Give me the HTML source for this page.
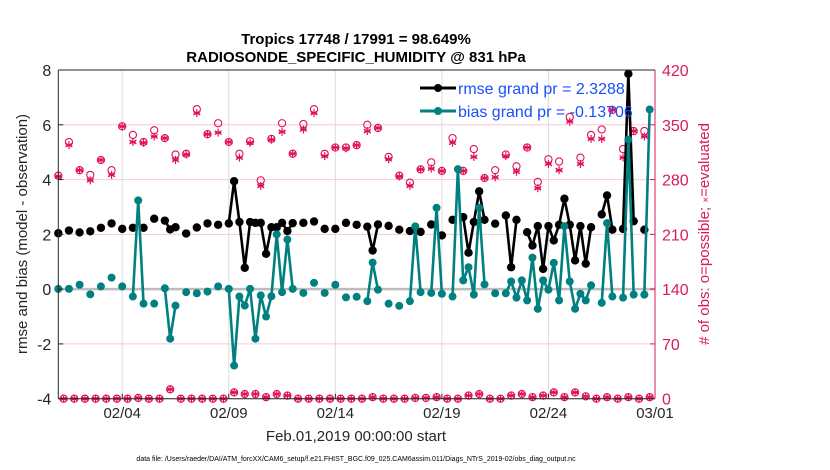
<!DOCTYPE html>
<html><head><meta charset="utf-8"><style>
body{margin:0;background:#fff;}
svg{display:block;font-family:"Liberation Sans",Arial,sans-serif;}
</style></head><body>
<svg id="chart" width="830" height="470" viewBox="0 0 830 470" xmlns="http://www.w3.org/2000/svg">
<rect x="0" y="0" width="830" height="470" fill="#fff"/>
<text x="356" y="44" text-anchor="middle" font-size="15" font-weight="bold" fill="#000">Tropics 17748 / 17991 = 98.649%</text>
<text x="356" y="62" text-anchor="middle" font-size="15" font-weight="bold" fill="#000">RADIOSONDE_SPECIFIC_HUMIDITY @ 831 hPa</text>
<g id="grid"></g>
<g id="marks"></g>
<g id="axes"></g>
<text transform="translate(27,234) rotate(-90)" text-anchor="middle" font-size="15" fill="#262626">rmse and bias (model - observation)</text>
<text transform="translate(709,234) rotate(-90)" text-anchor="middle" font-size="15" fill="#d81b5a">
<tspan># of obs: o=possible; </tspan><tspan font-size="10">×</tspan><tspan>=evaluated</tspan></text>
<text x="356" y="441" text-anchor="middle" font-size="15" fill="#262626">Feb.01,2019 00:00:00 start</text>
<text x="356" y="461" text-anchor="middle" font-size="7" fill="#000">data file: /Users/raeder/DAI/ATM_forcXX/CAM6_setup/f.e21.FHIST_BGC.f09_025.CAM6assim.011/Diags_NTrS_2019-02/obs_diag_output.nc</text>
<g id="legend">
<line x1="420" y1="88" x2="456" y2="88" stroke="#000" stroke-width="3"/>
<circle cx="438" cy="88" r="4" fill="#000"/>
<text x="458" y="94" font-size="16" fill="#1a4fff">rmse grand pr = 2.3288</text>
<line x1="420" y1="111" x2="456" y2="111" stroke="#008080" stroke-width="3"/>
<circle cx="438" cy="111" r="4" fill="#008080"/>
<text x="458" y="117" font-size="16" fill="#1a4fff">bias grand pr = -0.13706</text>
</g>
</svg>
<script>
// 6-hourly slot index (day*4) -> value
const rmseIdx = [0,2,4,6,8,10,12,14,16,18,20,21,22,24,26,28,30,32,33,34,35,36,37,38,39,40,41,42,43,44,46,48,50,52,54,56,58,59,60,62,64,66,68,70,72,74,76,77,78,79,80,82,84,85,86,88,89,90,91,92,93,94,95,96,97,98,99,100,102,103,104,106,107,108,110];
const rmseVal = [2.04,2.14,2.07,2.11,2.24,2.40,2.20,2.24,2.24,2.57,2.50,2.18,2.26,2.03,2.25,2.40,2.35,2.40,3.94,2.45,0.78,2.45,2.42,2.42,1.29,2.26,2.26,2.42,2.12,2.41,2.42,2.47,2.2,2.2,2.42,2.35,2.28,1.41,2.36,2.31,2.17,2.12,2.09,2.36,1.96,2.53,2.63,1.33,2.45,3.57,2.53,2.39,2.69,0.8,2.53,2.08,1.59,2.3,0.74,2.3,1.78,2.35,3.3,2.35,1.05,2.3,0.93,2.26,2.73,3.42,2.17,2.2,7.86,2.48,2.17];
const biasIdx = [0,2,4,6,8,10,12,14,15,16,18,20,21,22,24,26,28,30,32,33,34,35,36,37,38,39,40,41,42,43,44,46,48,50,52,54,56,58,59,60,62,64,66,67,68,70,71,72,74,75,76,77,78,79,80,82,84,85,86,87,88,89,90,91,92,93,94,95,96,97,98,99,100,102,103,104,106,107,108,110,111];
const biasVal = [0.01,0.01,0.16,-0.19,0.1,0.42,0.1,-0.27,3.24,-0.53,-0.53,0.03,-1.81,-0.6,-0.11,-0.15,-0.09,0.1,0.01,-2.79,-0.27,-0.6,0.01,-1.81,-0.23,-1.0,-0.26,2.0,-0.11,1.81,0.01,-0.14,0.23,-0.14,0.16,-0.3,-0.28,-0.44,0.97,-0.02,-0.53,-0.61,-0.44,2.29,-0.11,-0.14,2.97,-0.17,-0.27,4.38,0.32,0.8,-0.2,2.97,0.17,-0.15,-0.15,0.28,-0.31,0.32,-0.41,1.15,-0.72,0.32,-0.02,0.96,-0.41,2.3,0.28,-0.72,-0.17,-0.41,0.14,-0.5,2.41,-0.27,-0.31,5.46,-0.2,-0.2,6.56];
// obs counts at 00Z/12Z (half-day k, day = k*0.5)
const possMain = [285,328,292,286,305,292,348,337,328,343,333,312,313,370,338,352,328,313,329,279,332,352,313,351,370,313,321,321,324,350,346,309,285,276,293,302,291,333,291,319,282,292,312,297,321,277,306,303,360,308,337,344,369,319,342,342];
const evalMain = [284,324,292,279,305,286,348,328,327,335,333,305,312,365,338,340,328,308,327,272,331,341,313,344,365,310,321,320,324,342,346,306,284,272,293,294,291,327,291,309,282,283,310,290,321,269,300,292,354,300,332,332,369,308,342,335];
// obs counts at 06Z/18Z (day = k*0.5+0.25)
const countOff = [0,0,0,0,0,0,0,1,0,0,12,0,0,0,0,0,8,6,6,2,6,4,0,0,0,0,0,0,0,2,0,0,0,1,1,2,0,0,4,6,0,0,4,6,2,4,8,2,8,3,0,2,0,2,0,2];
const leftTicks = [-4,-2,0,2,4,6,8];
const rightTicks = [0,70,140,210,280,350,420];
const dateTicks = [3,8,13,18,23,28];
const dateLabels = ["02/04","02/09","02/14","02/19","02/24","03/01"];

const X0=58.3,X1=655,Y0=398.7,Y1=70;
const xs = d => X0 + d/28*(X1-X0);
const ys = v => Y0 - (v+4)/12*(Y0-Y1);
const yr = c => Y0 - c/420*(Y0-Y1);
const NS="http://www.w3.org/2000/svg";
function mk(tag,attrs,parent){const e=document.createElementNS(NS,tag);for(const k in attrs)e.setAttribute(k,attrs[k]);parent.appendChild(e);return e;}
const grid=document.getElementById('grid'),marks=document.getElementById('marks'),axes=document.getElementById('axes');

leftTicks.forEach(v=>{
  const y=ys(v);
  const g=mk('line',{x1:X0,x2:X1,y1:y,y2:y,stroke:'#f2c9d8','stroke-width':1},grid);
  
  
  const t=mk('line',{x1:X0,x2:X0+5,y1:y,y2:y,stroke:'#262626'},axes);
  
  
  const l=mk('text',{x:X0-7,y:y+6,'text-anchor':'end','font-size':16,fill:'#262626'},axes);
  l.textContent=v;
  
  
});
rightTicks.forEach(c=>{
  const y=yr(c);
  const t=mk('line',{x1:X1-5,x2:X1,y1:y,y2:y,stroke:'#d81b5a'},axes);
  
  
  const l=mk('text',{x:X1+7,y:y+6,'font-size':16,fill:'#d81b5a'},axes);
  l.textContent=c;
  
  
});
dateTicks.forEach((d,i)=>{
  const x=xs(d);
  if(d<28){const g=mk('line',{x1:x,x2:x,y1:Y1,y2:Y0,stroke:'#dcdcdc'},grid);
  
  }
  const t=mk('line',{x1:x,x2:x,y1:Y0,y2:Y0-5,stroke:'#262626'},axes);
  
  
  const l=mk('text',{x:x,y:418,'text-anchor':'middle','font-size':15,fill:'#262626'},axes);
  l.textContent=dateLabels[i];
  
  
});
const zl=mk('line',{x1:X0,x2:X1,y1:ys(0),y2:ys(0),stroke:'#bdbdbd','stroke-width':2.5},grid);


const ax1=mk('line',{x1:X0,x2:X0,y1:Y1,y2:Y0,stroke:'#262626'},axes);


const ax2=mk('line',{x1:X0,x2:X1,y1:Y0,y2:Y0,stroke:'#262626'},axes);


const ax3=mk('line',{x1:X1,x2:X1,y1:Y1,y2:Y0,stroke:'#d81b5a'},axes);


const ax4=mk('line',{x1:X0,x2:X1,y1:Y1,y2:Y1,stroke:'#262626'},axes);



const PINK='#e0105a';
function star(x,y,r,name){
  const g=mk('g',{stroke:PINK,'stroke-width':1.2},marks);
  for(let a=0;a<3;a++){const t=a*Math.PI/3+Math.PI/2;mk('line',{x1:x-r*Math.cos(t),y1:y-r*Math.sin(t),x2:x+r*Math.cos(t),y2:y+r*Math.sin(t)},g);}
  mk('line',{x1:x-r*0.8,y1:y,x2:x+r*0.8,y2:y},g);
  
  
}
function ring(x,y,name){
  const c=mk('circle',{cx:x,cy:y,r:3.6,fill:'none',stroke:PINK,'stroke-width':1.1},marks);
  
  
}
possMain.forEach((p,k)=>{const x=xs(k*0.5);ring(x,yr(p),'obs-possible');star(x,yr(evalMain[k]),4,'obs-evaluated');});
countOff.forEach((c,k)=>{const x=xs(k*0.5+0.25);ring(x,yr(c),'obs-possible');star(x,yr(c),4,'obs-evaluated');});

function series(idx,vals,color,name,r){
  let seg=[];const segs=[];
  idx.forEach((i,n)=>{if(n>0&&i!==idx[n-1]+1){segs.push(seg);seg=[];}seg.push([xs(i/4),ys(vals[n])]);});
  segs.push(seg);
  segs.forEach(s=>{if(s.length>1){const p=mk('polyline',{points:s.map(q=>q.join(',')).join(' '),fill:'none',stroke:color,'stroke-width':2.6,'stroke-linejoin':'round'},marks);
    
    }});
  idx.forEach((i,n)=>{const c=mk('circle',{cx:xs(i/4),cy:ys(vals[n]),r:r,fill:color},marks);
    
    });
}
series(rmseIdx,rmseVal,'#000','rmse',4.2);
series(biasIdx,biasVal,'#008080','bias',4);
</script>
</body></html>
